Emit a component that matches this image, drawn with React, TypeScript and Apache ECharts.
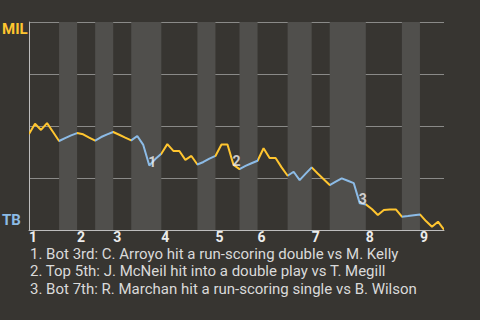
import React, { useEffect, useRef } from "react";
import * as echarts from "echarts";

// Win probability for MIL (%), one value per plate appearance boundary
const wp: number[] = [
  46.2, 51.1, 48.1, 51.4, 47.1, 42.8, 44.2, 45.5, 46.6, 46.0,
  44.4, 43.0, 44.7, 46.0, 47.1, 45.8, 44.4, 43.1, 45.2, 40.9,
  31.0, 34.1, 36.7, 41.3, 38.0, 38.0, 33.7, 35.6, 31.5, 32.7,
  34.3, 35.6, 41.1, 41.1, 31.3, 29.3, 30.8, 32.1, 33.3, 39.3,
  34.6, 34.6, 30.1, 26.1, 28.0, 24.0, 27.1, 30.1, 27.2, 24.4,
  21.6, 23.2, 24.8, 23.7, 22.5, 12.8, 12.3, 10.1, 7.2, 9.6,
  9.9, 9.9, 6.4, 6.7, 7.1, 7.5, 4.3, 1.6, 4.0, 0.2,
];

// End index of each half-inning (top 1st, bot 1st, top 2nd, ...)
const halfInningEnds: number[] = [5, 8, 11, 14, 17, 22, 28, 31, 35, 38, 43, 47, 50, 56, 62, 65, 69];
const inningStarts: number[] = [0, 8, 14, 22, 31, 38, 47, 56, 65];
const inningLabels: string[] = ["1", "2", "3", "4", "5", "6", "7", "8", "9"];

const eventIdx: number[] = [20, 34, 55];
const eventMarks: string[] = ["1", "2", "3"];
const eventTexts: string[] = [
  "1. Bot 3rd: C. Arroyo hit a run-scoring double vs M. Kelly",
  "2. Top 5th: J. McNeil hit into a double play vs T. Megill",
  "3. Bot 7th: R. Marchan hit a run-scoring single vs B. Wilson",
];

const GOLD = "#FFC52F";
const BLUE = "#8CBBE6";
const BG = "#373531";
const BAND = "#504f4c";

export default function App() {
  const ref = useRef<HTMLDivElement>(null);
  useEffect(() => {
    document.body.style.margin = "0";
    document.body.style.background = BG;
    const chart = echarts.init(ref.current!, null, { renderer: "svg" });

    const pieces: any[] = [];
    const bands: any[] = [];
    let start = 0;
    halfInningEnds.forEach((end, k) => {
      const isTop = k % 2 === 0;
      pieces.push({ gte: start, lte: end, color: isTop ? GOLD : BLUE });
      if (!isTop) bands.push([{ xAxis: start }, { xAxis: end }]);
      start = end;
    });

    const lineData = wp.map((v, i) => [i, v]);
    const evData = eventIdx.map((i, k) => ({ value: [i, wp[i]], name: eventMarks[k] }));

    chart.setOption({
      animation: false,
      backgroundColor: BG,
      grid: { left: 29, right: 36, top: 22, bottom: 90 },
      xAxis: {
        type: "value",
        min: 0,
        max: 69,
        splitLine: { show: false },
        axisTick: { show: false },
        axisLine: { show: true, lineStyle: { color: "#bdbdbd", width: 1 } },
        axisLabel: {
          customValues: inningStarts,
          showMinLabel: true,
          showMaxLabel: true,
          formatter: (v: number) => inningLabels[inningStarts.indexOf(v)] ?? "",
          align: "left",
          margin: 0,
          lineHeight: 14,
          color: "#ececec",
          fontWeight: "bold",
          fontSize: 14,
          fontFamily: "Roboto",
        },
      },
      yAxis: {
        type: "value",
        min: 0,
        max: 100,
        interval: 25,
        axisLabel: { show: false },
        axisTick: { show: false },
        axisLine: { show: true, lineStyle: { color: "#bdbdbd", width: 1 } },
        splitLine: { show: true, lineStyle: { color: "#8a8a88", width: 1 } },
      },
      visualMap: {
        show: false,
        type: "piecewise",
        seriesIndex: 0,
        dimension: 0,
        pieces,
      },
      series: [
        {
          type: "line",
          data: lineData,
          symbol: "none",
          lineStyle: { width: 2 },
          z: 3,
          markArea: {
            silent: true,
            itemStyle: { color: BAND },
            data: bands,
            z: 0,
          },
        },
        {
          type: "scatter",
          data: evData,
          symbolSize: 0,
          z: 5,
          label: {
            show: true,
            position: "inside",
            offset: [3, -4],
            formatter: (p: any) => p.name,
            color: "#f4f4f4",
            fontWeight: "bold",
            fontSize: 14,
            fontFamily: "Roboto",
          },
        },
      ],
      graphic: [
        {
          type: "text",
          left: 2,
          top: 21,
          style: { text: "MIL", fill: GOLD, font: "bold 15px Roboto" },
        },
        {
          type: "text",
          left: 2,
          top: 212,
          style: { text: "TB", fill: BLUE, font: "bold 15px Roboto" },
        },
        ...eventTexts.map((t, k) => ({
          type: "text",
          left: 30,
          top: 246 + k * 17.5,
          style: { text: t, fill: "#dadada", font: "15px Roboto", lineHeight: 15 },
        })),
      ],
    });
    return () => chart.dispose();
  }, []);
  return (
    <div
      ref={ref}
      style={{ position: "absolute", left: 0, top: 0, width: 480, height: 320 }}
    />
  );
}
